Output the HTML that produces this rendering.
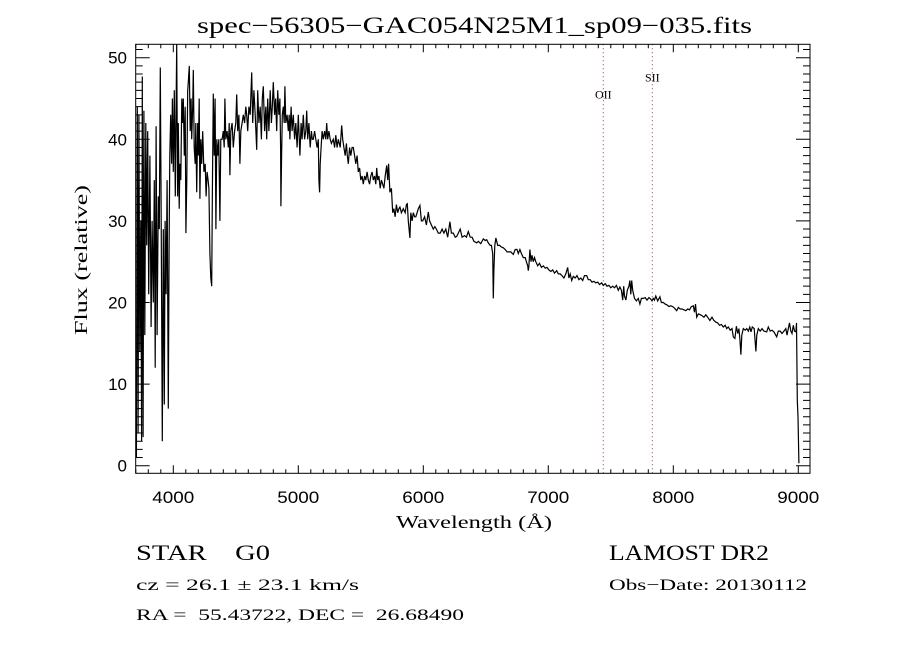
<!DOCTYPE html>
<html>
<head>
<meta charset="utf-8">
<style>
  html,body{margin:0;padding:0;background:#fff;}
  svg{display:block;}
  .serif{font-family:"Liberation Serif","DejaVu Serif",serif;}
  .sans{font-family:"Liberation Sans","DejaVu Sans",sans-serif;}
</style>
</head>
<body>
<svg id="chart" width="900" height="650" viewBox="0 0 900 650">
  <rect x="0" y="0" width="900" height="650" fill="#fff"/>
  <text x="197" y="33" class="serif" font-size="23" fill="#000" textLength="555" lengthAdjust="spacingAndGlyphs">spec−56305−GAC054N25M1_sp09−035.fits</text>
  <g id="ticks"></g>
  <g id="ylabels"></g>
  <g id="xlabels"></g>
  <g id="lines"></g>
  <path id="spec" fill="none" stroke="#000" stroke-width="1.2"/>
  <rect x="135.7" y="44.3" width="674.3" height="429" fill="none" stroke="#000" stroke-width="1"/>
  <text x="396" y="528" class="serif" font-size="18" textLength="156" lengthAdjust="spacingAndGlyphs">Wavelength (Å)</text>
  <text transform="translate(87,335) rotate(-90)" class="serif" font-size="18" textLength="150" lengthAdjust="spacingAndGlyphs">Flux (relative)</text>
  <text x="136" y="560" class="serif" font-size="22" xml:space="preserve" textLength="134" lengthAdjust="spacingAndGlyphs">STAR    G0</text>
  <text x="609" y="560" class="serif" font-size="22" textLength="160" lengthAdjust="spacingAndGlyphs">LAMOST DR2</text>
  <text x="136" y="590" class="serif" font-size="16" textLength="223" lengthAdjust="spacingAndGlyphs">cz = 26.1 ± 23.1 km/s</text>
  <text x="609" y="590" class="serif" font-size="16" textLength="198" lengthAdjust="spacingAndGlyphs">Obs−Date: 20130112</text>
  <text x="136" y="620" class="serif" font-size="16" xml:space="preserve" textLength="328" lengthAdjust="spacingAndGlyphs">RA =  55.43722, DEC =  26.68490</text>
</svg>
<script>
const xTicks = [4000, 5000, 6000, 7000, 8000, 9000];
const yTicks = [0, 10, 20, 30, 40, 50];
const lineNames = ["OII", "SII"];
const lineWaves = [7440, 7832];
const lineLabelFlux = [45.5, 47.6];
const spectrumPoints = [
[3705,1],[3712,44],[3718,4],[3725,43],[3732,14],[3740,30],[3746,3],[3752,47.7],[3758,3.5],[3765,43.5],[3772,16],[3780,42],[3787,27],[3795,41],[3803,21],[3813,38],[3822,17],[3830,30],[3840,20],[3848,35],[3855,12],[3862,41.6],[3870,16],[3880,33],[3888,29],[3896,48.8],[3903,30],[3912,3],[3920,29],[3928,7.5],[3934,30],[3942,21],[3950,35],[3960,7],[3966,27],[3972,38],[3979,43],[3986,37],[3993,45],[4000,36],[4008,46],[4016,33],[4022,44],[4027,51.6],[4034,33],[4040,42],[4047,31.5],[4053,37],[4060,35],[4068,45],[4074,42],[4080,45],[4088,38],[4095,44],[4101,28.5],[4108,35],[4115,46],[4120,47],[4128,49],[4135,41],[4142,45],[4147,40],[4155,44],[4160,48.5],[4167,39],[4175,37],[4180,42],[4187,33.5],[4195,42],[4200,38],[4207,45],[4213,32.7],[4220,40],[4227,37],[4235,41],[4245,36],[4255,37],[4262,33],[4270,36],[4278,35],[4285,34],[4293,26],[4300,23],[4307,22],[4313,34],[4320,45.6],[4327,38],[4334,45],[4341,29],[4348,40],[4356,38],[4364,40],[4373,30],[4380,40],[4390,40],[4400,41],[4407,39],[4413,45],[4420,40],[4430,41],[4440,39],[4447,42],[4453,35.6],[4460,41],[4470,42],[4480,39],[4490,41],[4500,42],[4507,45.5],[4515,41],[4525,43],[4533,37],[4540,41],[4550,42],[4560,43],[4570,42],[4580,44],[4587,43],[4595,41],[4605,44],[4615,43],[4627,48.2],[4635,42],[4645,46],[4655,43],[4667,38.7],[4675,46],[4685,42],[4695,44],[4705,40],[4712,45],[4720,46.5],[4730,41],[4740,44],[4747,40],[4755,45],[4765,41],[4775,46],[4785,42],[4792,44],[4800,47],[4810,43],[4818,45],[4827,41],[4835,46],[4845,43],[4853,45],[4858,39],[4861,31.8],[4866,38],[4872,43],[4880,44],[4887,42],[4893,46.5],[4900,42],[4910,43],[4920,41],[4927,43],[4933,40],[4942,44],[4950,41],[4960,43],[4970,40],[4980,42],[4990,39],[5000,43],[5013,38],[5022,42],[5030,40],[5040,43],[5050,40],[5060,41],[5067,43.5],[5075,40],[5085,42],[5095,39],[5105,41],[5112,40],[5120,40],[5130,41],[5140,40],[5150,39],[5160,40],[5165,35],[5170,33.5],[5175,37],[5182,39],[5190,41],[5200,40],[5210,41],[5220,40],[5227,42],[5235,40],[5245,41],[5255,40],[5265,39.5],[5280,40],[5290,39],[5300,40.5],[5310,39],[5320,40],[5335,39],[5347,41.7],[5355,40],[5365,39],[5375,38],[5385,39.5],[5392,38],[5400,37],[5410,39],[5420,38],[5430,39],[5440,39],[5450,38],[5460,37],[5470,38],[5480,36],[5490,36.5],[5500,35],[5510,35.5],[5520,34.5],[5530,35.5],[5540,35],[5550,36],[5560,35],[5570,34.5],[5580,35.5],[5590,36],[5600,35],[5610,35.5],[5620,34.5],[5627,36.5],[5635,35],[5645,35.5],[5655,34],[5665,35],[5675,34.5],[5685,34],[5695,35.5],[5707,36.8],[5715,35],[5722,37],[5733,33.5],[5745,34],[5755,31],[5765,31.5],[5774,30.5],[5785,32],[5795,31],[5805,31.5],[5813,31.7],[5825,31],[5840,31.5],[5855,31],[5865,32],[5872,32.1],[5880,30],[5893,27.9],[5900,31],[5910,30],[5920,31],[5930,30.5],[5940,30.5],[5950,31],[5960,31.5],[5973,31.9],[5985,30],[5995,30],[6010,30.5],[6025,29.5],[6040,31.1],[6050,30],[6065,29.5],[6080,29],[6093,29.3],[6105,29],[6120,28.5],[6135,28.5],[6150,29],[6165,28.5],[6180,29],[6195,28],[6213,29.9],[6225,28.5],[6240,28.5],[6255,28],[6267,28.1],[6280,28.5],[6295,29],[6310,28],[6330,28.2],[6345,28],[6360,28.7],[6375,28],[6390,28],[6405,27.5],[6427,27.3],[6440,27.5],[6460,27.2],[6480,27.8],[6495,27.6],[6507,27.7],[6520,27.3],[6535,27],[6545,27],[6555,26],[6560,20.5],[6565,24],[6572,27],[6581,27.9],[6595,27],[6610,27],[6625,26.8],[6640,26.7],[6655,26.5],[6670,26.2],[6685,26.2],[6700,26.2],[6720,25.9],[6735,26.5],[6750,26.5],[6760,26],[6773,26.5],[6785,26],[6800,25.5],[6815,25.5],[6825,25],[6835,24.5],[6840,23.9],[6845,24.5],[6853,26.5],[6862,25],[6870,25.8],[6880,25],[6890,25.5],[6900,25],[6915,24.5],[6930,24.8],[6945,24.3],[6960,24.5],[6975,24.2],[6990,24.3],[7005,24],[7020,23.8],[7035,24],[7050,23.6],[7067,23.9],[7080,23.5],[7095,23.5],[7110,23.3],[7125,23],[7140,23.5],[7155,24.3],[7165,23],[7175,23.5],[7187,22.7],[7200,23.2],[7215,23],[7230,23.3],[7245,22.8],[7260,23],[7275,22.7],[7290,23.3],[7307,23.3],[7320,22.8],[7335,22.8],[7350,22.5],[7365,22.6],[7380,22.4],[7395,22.5],[7410,22.2],[7427,22.4],[7440,22.1],[7455,22.3],[7470,22],[7485,22.1],[7500,21.8],[7515,22],[7530,21.8],[7545,22.1],[7560,21.5],[7573,21.9],[7585,21.5],[7595,20.3],[7603,22],[7610,20.8],[7621,20.3],[7632,21.5],[7645,22],[7653,22.7],[7660,21],[7667,22.7],[7675,21.5],[7690,20.5],[7705,20.2],[7720,20.5],[7733,19.8],[7745,20.5],[7760,20.5],[7775,20.6],[7790,20.3],[7805,20.6],[7820,20.4],[7830,20.2],[7840,20.5],[7850,20.3],[7860,20.8],[7875,20.2],[7893,20.7],[7905,20],[7920,20],[7935,19.8],[7950,19.7],[7965,19.5],[7980,19.6],[7995,19.5],[8010,19.3],[8027,19],[8040,19.4],[8055,19.2],[8070,19.2],[8085,19.1],[8100,19],[8115,19.2],[8130,19.1],[8145,19.5],[8160,19.6],[8170,18.8],[8178,19.8],[8187,18.2],[8200,18.6],[8215,18.5],[8230,18.4],[8245,18.2],[8260,18.5],[8275,18.2],[8293,17.8],[8310,18.2],[8325,17.8],[8340,17.6],[8355,17.5],[8370,17.2],[8385,17.3],[8400,17],[8415,17.2],[8427,16.8],[8440,17],[8455,16.6],[8470,16.8],[8480,15.8],[8493,15.6],[8505,17.1],[8515,16.2],[8525,16.8],[8533,15.5],[8541,13.6],[8548,16],[8560,16.8],[8575,16.6],[8587,16.8],[8600,16.5],[8612,17],[8622,16.4],[8632,17],[8647,16.8],[8661,14],[8668,16],[8680,16.8],[8695,16.5],[8710,16.8],[8725,16.5],[8747,16.4],[8760,17],[8775,16.5],[8790,16.6],[8805,16.4],[8827,15.8],[8840,16.5],[8855,16.5],[8870,16.2],[8885,16.5],[8900,16.8],[8910,16],[8920,16.8],[8930,17.5],[8940,16.5],[8950,16.2],[8960,17.2],[8970,16.5],[8981,16.4],[8986,17.5],[8992,8],[8998,6],[9005,0.3]
];

const NS = "http://www.w3.org/2000/svg";
const L = 135.7, R = 810, T = 44.3, B = 473.3;
function xs(w){ return 173.3 + (w - 4000) * 0.125; }
function ys(f){ return 465.7 - f * 8.16; }
function mk(tag, attrs, parent){
  const e = document.createElementNS(NS, tag);
  for (const k in attrs) e.setAttribute(k, attrs[k]);
  parent.appendChild(e);
  return e;
}

let d = "";
spectrumPoints.forEach((p, i) => {
  const x = Math.max(L, Math.min(R, xs(p[0])));
  const y = Math.max(T, Math.min(B, ys(p[1])));
  d += (i ? "L" : "M") + x.toFixed(1) + "," + y.toFixed(1);
});
document.getElementById("spec").setAttribute("d", d);

const tg = document.getElementById("ticks");
let td = "";
for (let w = 3700; w <= 9100; w += 100) {
  const x = xs(w);
  if (x < L || x > R) continue;
  const len = (w % 1000 === 0) ? 8 : 4;
  td += `M${x},${B}V${B - len}M${x},${T}V${T + len}`;
}
for (let f = 0; f <= 51; f += 1) {
  const y = ys(f);
  if (y < T) continue;
  const len = (f % 10 === 0) ? 14 : 7;
  td += `M${L},${y}H${L + len}M${R},${y}H${R - len}`;
}
const tp = mk("path", {d: td, stroke: "#000", "stroke-width": 1, fill: "none"}, tg);



const xl = document.getElementById("xlabels");
xTicks.forEach(v => {
  const t = mk("text", {x: xs(v) - 21, y: 503, class: "sans", "font-size": 17, textLength: 42, lengthAdjust: "spacingAndGlyphs"}, xl);
  t.textContent = v;
  
  
});
const yl = document.getElementById("ylabels");
yTicks.forEach(v => {
  const t = mk("text", {x: 127, y: ys(v) + 6, "text-anchor": "end", class: "sans", "font-size": 17}, yl);
  t.textContent = v;
  
  
});

const lg = document.getElementById("lines");
lineWaves.forEach((w, i) => {
  const x = xs(w);
  const ln = mk("line", {x1: x, x2: x, y1: T, y2: B, stroke: "#8b3a3a", "stroke-width": 1, "stroke-dasharray": "1,3"}, lg);
  
  
  const t = mk("text", {x: x, y: ys(lineLabelFlux[i]) + 4, "text-anchor": "middle", class: "serif", "font-size": 12}, lg);
  t.textContent = lineNames[i];
  
  
});
</script>
</body>
</html>
